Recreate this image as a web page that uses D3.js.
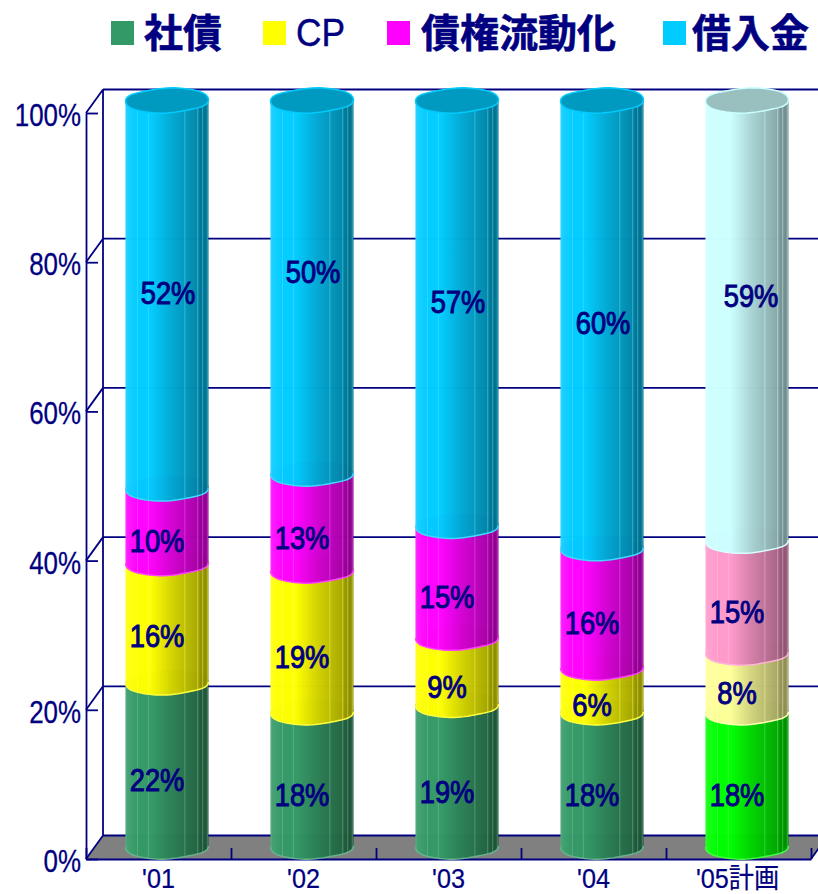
<!DOCTYPE html>
<html><head><meta charset="utf-8">
<style>html,body{margin:0;padding:0;background:#fff;overflow:hidden}svg{display:block}</style>
<script src="https://cdnjs.cloudflare.com/ajax/libs/d3/7.8.5/d3.min.js"></script>
</head><body><script>
const categories = ["'01","'02","'03","'04","'05計画"];
const seriesNames = ["社債","CP","債権流動化","借入金"];
const bond = [22,18,19,18,18];
const cp = [16,19,9,6,8];
const securitized = [10,13,15,16,15];
const loans = [52,50,57,60,59];
const seriesValues = [bond,cp,securitized,loans];
// height (in % on the axis) at which each printed value sits
const labelAtBond = [8.9,6.8,7.2,6.8,6.8];
const labelAtCp = [28.1,25.4,21.3,18.9,20.5];
const labelAtSec = [40.9,41.3,33.4,29.9,31.4];
const labelAtLoans = [74.1,76.9,72.9,70.1,73.7];
const labelAt = [labelAtBond,labelAtCp,labelAtSec,labelAtLoans];
const seriesColors = ["#339966","#FFFF00","#FF00FF","#00CCFF"];
const planColors = ["#00FF00","#FFFF99","#FF99CC","#CCFFFF"];
const yTicks = [0,20,40,60,80,100];

const W=818,H=894,navy="#000080",latin="'Liberation Sans',Arial,sans-serif",cjk="'Noto Sans CJK JP',sans-serif";
const depthX=17,depthY=-23.5;
const svg=d3.select("body").append("svg").attr("width",W).attr("height",H);
const defs=svg.append("defs");
const x=d3.scaleBand().domain(categories).range([86,811]);
const y=d3.scaleLinear().domain([0,100]).range([859,113]);

// walls and floor
const fx=811, fy=y(0);
svg.append("path").attr("d",`M86,${fy}L${86+depthX},${fy+depthY}H${fx+depthX}L${fx},${fy}Z`).attr("fill","#808080");
const wall=svg.append("g").attr("stroke",navy).attr("stroke-width",1.8).attr("fill","none");
wall.selectAll(".grid").data(yTicks.slice(1)).join("line").attr("x1",86+depthX).attr("x2",W)
  .attr("y1",d=>y(d)+depthY).attr("y2",d=>y(d)+depthY);
wall.append("line").attr("x1",86+depthX).attr("x2",W).attr("y1",fy+depthY).attr("y2",fy+depthY);
wall.append("line").attr("x1",86+depthX).attr("x2",86+depthX).attr("y1",y(100)+depthY).attr("y2",fy+depthY);
wall.selectAll(".diag").data(yTicks).join("line").attr("x1",86).attr("x2",86+depthX)
  .attr("y1",d=>y(d)).attr("y2",d=>y(d)+depthY);
wall.append("line").attr("x1",fx).attr("x2",fx+depthX).attr("y1",fy).attr("y2",fy+depthY);

// axes
const yAxis=d3.axisLeft(y).tickValues(yTicks).tickFormat(d=>d+"%").tickSizeInner(-12).tickSizeOuter(0).tickPadding(5);
const gy=svg.append("g").attr("transform","translate(86,0)").call(yAxis);
gy.selectAll("path,line").attr("stroke",navy).attr("stroke-width",1.8);
gy.selectAll("text").attr("x",0).attr("dy",null).attr("y",12.5).attr("fill",navy).attr("stroke",navy).attr("stroke-width",.3)
  .attr("font-family",latin).attr("font-size",32).attr("transform","translate(-5,0) scale(.81,1)");
const xAxis=d3.axisBottom(d3.scalePoint().domain(d3.range(6)).range([86,811])).tickSizeInner(-11).tickSizeOuter(0).tickFormat("");
const gx=svg.append("g").attr("transform",`translate(0,${fy})`).call(xAxis);
gx.selectAll("path,line").attr("stroke",navy).attr("stroke-width",1.8);
svg.append("g").selectAll("text").data(categories).join("text")
  .attr("transform",d=>`translate(${x(d)+x.bandwidth()/2-(d.length>3?1:0)},888) scale(.9,1)`)
  .attr("text-anchor","middle").attr("fill",navy).attr("font-size",28).attr("stroke",navy).attr("stroke-width",.25)
  .attr("font-family",`${latin.split(",")[0]},'Noto Sans CJK JP',sans-serif`).text(d=>d);

// cylinders
const rx=41.5, ry=12.5, lift=-12.5;
const ring=(cx,cy,t)=>[cx+rx*Math.cos(t), cy+ry*Math.sin(t)-1.1*Math.cos(t)+0.5*Math.sin(3*t+1)+0.3*Math.sin(5*t)];
const arc=(cx,cy,a,b)=>d3.range(0,37).map(i=>ring(cx,cy,a+(b-a)*i/36));
const line=d3.line();
const facetAt=[-.99,-.71,-.45,.43,.74,.86,.97];
const shade=c=>[[0,d3.interpolateRgb(c,"#fff")(.1)],[.14,c],[.3,c],[.55,d3.interpolateRgb(c,"#000")(.17)],[.75,d3.interpolateRgb(c,"#000")(.28)],[1,d3.interpolateRgb(c,"#000")(.42)]];
const fillIds={};
[...seriesColors,...planColors].forEach((c,i)=>{
  const id="g"+i; fillIds[c]=id;
  defs.append("linearGradient").attr("id",id).selectAll("stop").data(shade(c)).join("stop")
    .attr("offset",d=>d[0]).attr("stop-color",d=>d[1]);
});
const colorOf=(s,j)=>(j===categories.length-1?planColors:seriesColors)[s];
const gc=svg.append("g");
categories.forEach((cat,j)=>{
  const cx=x(cat)+x.bandwidth()/2+depthX/2;
  let base=0;
  seriesValues.forEach((vals,s)=>{
    const top=base+vals[j], c=colorOf(s,j);
    const y0=y(base)+lift, y1=y(top)+lift;
    const pts=[...arc(cx,y1,Math.PI,2*Math.PI),...arc(cx,y0,0,Math.PI)];
    const d=line(pts)+"Z", clip=`c${j}_${s}`;
    defs.append("clipPath").attr("id",clip).append("path").attr("d",d);
    const g=gc.append("g");
    g.append("path").attr("d",d).attr("fill",`url(#${fillIds[c]})`).attr("fill-opacity",.985);
    const f=g.append("g").attr("clip-path",`url(#${clip})`);
    f.append("rect").attr("x",cx+.78*rx).attr("width",rx*.25).attr("y",y1-20).attr("height",y0-y1+40).attr("fill","#000").attr("opacity",.08);
    f.selectAll("line").data(facetAt).join("line").attr("x1",t=>cx+t*rx).attr("x2",t=>cx+t*rx)
      .attr("y1",y1-20).attr("y2",y0+20).attr("stroke",d3.interpolateRgb(c,"#fff")(.4)).attr("stroke-opacity",.45).attr("stroke-width",1);
    g.append("path").attr("d",line(arc(cx,y0,0,Math.PI))).attr("fill","none")
      .attr("stroke",d3.interpolateRgb(c,"#fff")(.25)).attr("stroke-width",1.5);
    base=top;
  });
  const c=colorOf(3,j), yt=y(100)+lift;
  gc.append("path").attr("d",line(arc(cx,yt,0,2*Math.PI))+"Z")
    .attr("fill",d3.interpolateRgb(c,"#000")(.25)).attr("stroke",c).attr("stroke-width",1.5);
});

// value labels
const labelShift=[-10,-10,-10,1];
seriesValues.forEach((vals,s)=>{
  svg.append("g").selectAll("text").data(vals).join("text")
    .attr("transform",(d,j)=>`translate(${x(categories[j])+x.bandwidth()/2+depthX/2+labelShift[s]+(j===4&&s===3?3:0)},${y(labelAt[s][j])+lift+10.5}) scale(.88,1)`)
    .attr("text-anchor","middle").attr("fill",navy).attr("stroke",navy).attr("stroke-width",1)
    .attr("font-family",latin).attr("font-size",31).text(d=>d+"%");
});

// legend
const legendSwatch=[111,263,387,663], legendText=[144,296,421,692];
const lg=svg.append("g");
seriesNames.forEach((n,i)=>{
  lg.append("rect").attr("x",legendSwatch[i]).attr("y",21).attr("width",23).attr("height",24).attr("fill",seriesColors[i]);
  const latinName=/^[A-Z]+$/.test(n);
  lg.append("text").attr("transform",`translate(${legendText[i]},${latinName?46:47}) scale(${latinName?.93:1},1)`).attr("fill",navy)
    .attr("stroke",navy).attr("stroke-width",latinName?.4:.6)
    .attr("font-family",latinName?latin:cjk).attr("font-weight",latinName?400:700).attr("font-size",latinName?38:39).text(n);
});
</script></body></html>
